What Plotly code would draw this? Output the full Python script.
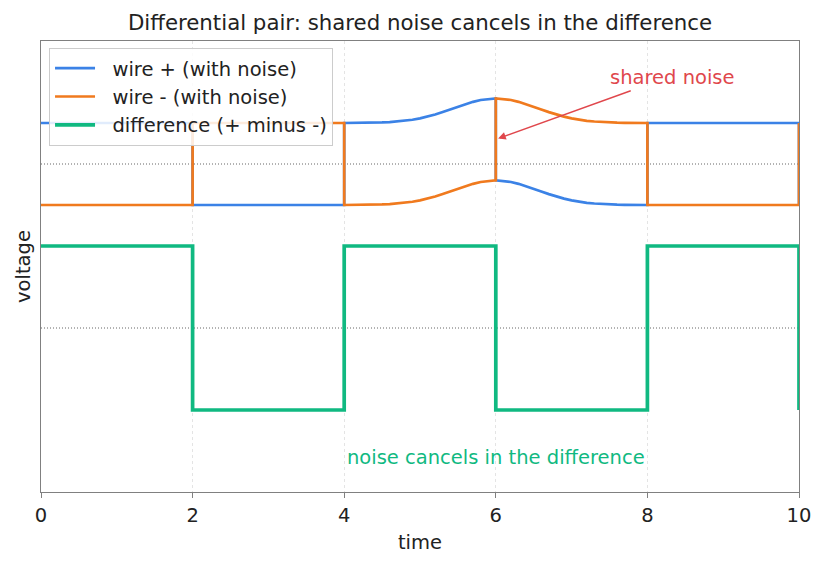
import numpy as np
import plotly.graph_objects as go

# ---- data ----
bit_edges = [0, 2, 4, 6, 8, 10]
bit_levels = [1, -1, 1, -1, 1]
end_level = -1
wire_center = 2.0
wire_swing = 0.5

noise_t = [4.0, 4.1, 4.2, 4.3, 4.4, 4.5, 4.6, 4.7, 4.8, 4.9, 5.0,
           5.1, 5.2, 5.3, 5.4, 5.5, 5.6, 5.7, 5.8, 5.9, 6.0,
           6.1, 6.2, 6.3, 6.4, 6.5, 6.6, 6.7, 6.8, 6.9, 7.0,
           7.1, 7.2, 7.3, 7.4, 7.5, 7.6, 7.7, 7.8, 7.9, 8.0]
noise_v = [0.000, 0.000, 0.001, 0.002, 0.004, 0.007, 0.011, 0.018, 0.027, 0.040, 0.057,
           0.078, 0.103, 0.133, 0.165, 0.198, 0.230, 0.258, 0.281, 0.295, 0.300,
           0.295, 0.281, 0.258, 0.230, 0.198, 0.165, 0.133, 0.103, 0.078, 0.057,
           0.040, 0.027, 0.018, 0.011, 0.007, 0.004, 0.002, 0.001, 0.000, 0.000]

# ---- build step series ----
xs, s = [], []
for i in range(len(bit_levels)):
    a, b = bit_edges[i], bit_edges[i + 1]
    pts = [a] + [t for t in noise_t if a < t < b] + [b]
    for t in pts:
        xs.append(t)
        s.append(bit_levels[i])
xs.append(bit_edges[-1])
s.append(end_level)
xs = np.array(xs, dtype=float)
s = np.array(s, dtype=float)
noise = np.interp(xs, noise_t, noise_v, left=0, right=0)
wire_p = wire_center + wire_swing * s + noise
wire_m = wire_center - wire_swing * s + noise
diff = wire_p - wire_m

BLUE = "#3b82e6"
ORANGE = "#f07a1e"
GREEN = "#10b981"
RED = "#e0474c"
FS = 19.5
PAD = "\u00a0\u00a0"

fig = go.Figure()
fig.add_trace(go.Scatter(x=xs, y=wire_p, mode="lines", name=PAD + "wire + (with noise)",
                         line=dict(color=BLUE, width=2.7), legendgroup="a"))
fig.add_trace(go.Scatter(x=xs, y=wire_m, mode="lines", name=PAD + "wire - (with noise)",
                         line=dict(color=ORANGE, width=2.7), legendgroup="b"))
fig.add_trace(go.Scatter(x=xs, y=diff, mode="lines", name=PAD + "difference (+ minus -)",
                         line=dict(color=GREEN, width=3.7), legendgroup="c"))

for yv in [0, wire_center]:
    fig.add_shape(type="line", xref="paper", x0=0, x1=1, yref="y", y0=yv, y1=yv,
                  line=dict(color="#666666", width=1, dash="1px,2px"), layer="below")

fig.add_annotation(x=6.03, y=2.31, ax=7.8, ay=2.9, axref="x", ayref="y",
                   text="", showarrow=True, arrowhead=2, arrowsize=1.1,
                   arrowwidth=1.4, arrowcolor=RED)
fig.add_annotation(x=8.33, y=3.05, text="shared noise", showarrow=False,
                   font=dict(color=RED, size=FS, family="DejaVu Sans"))
fig.add_annotation(x=4.01, y=-1.58, text="noise cancels in the difference",
                   showarrow=False, xanchor="left",
                   font=dict(color=GREEN, size=FS, family="DejaVu Sans"))

fig.update_layout(
    width=826, height=567,
    margin=dict(l=41, r=27, t=41, b=75),
    paper_bgcolor="white", plot_bgcolor="white",
    font=dict(family="DejaVu Sans", size=FS, color="#222222"),
    title=dict(text="Differential pair: shared noise cancels in the difference",
               x=0.5, xref="paper", xanchor="center", y=1 - 23 / 567, yref="container",
               yanchor="middle", font=dict(size=21.3, color="#222222")),
    showlegend=True,
    legend=dict(x=0.0106, y=0.9845, xanchor="left", yanchor="top",
                bgcolor="rgba(255,255,255,0.85)", bordercolor="#cccccc", borderwidth=1,
                font=dict(size=FS), tracegroupgap=0, itemwidth=40),
    xaxis=dict(range=[0, 10], tickvals=[0, 2, 4, 6, 8, 10],
               showgrid=True, gridcolor="#e4e4e4", griddash="dot", gridwidth=1,
               zeroline=False, showline=True, linecolor="#808080", linewidth=1.3,
               mirror=True, ticks="outside", ticklen=5, tickcolor="#808080",
               tickfont=dict(size=FS),
               title=dict(text="time", standoff=9, font=dict(size=FS))),
    yaxis=dict(range=[-2, 3.5], showticklabels=False, showgrid=False, zeroline=False,
               showline=True, linecolor="#808080", linewidth=1.3, mirror=True,
               ticks="", title=dict(text="voltage", standoff=4, font=dict(size=FS))),
)

fig.write_html("out.html")
